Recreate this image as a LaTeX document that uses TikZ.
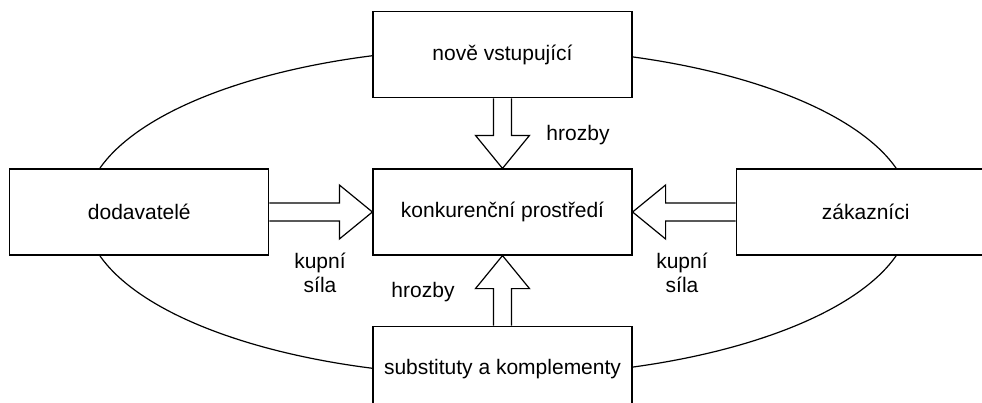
\documentclass[tikz,border=0pt]{standalone}
\usepackage{fontspec}
\setmainfont{Liberation Sans}
\usetikzlibrary{positioning}
\usetikzlibrary{calc}

\begin{document}
\begin{tikzpicture}[
	x=0.75pt,
	y=-0.75pt,
	line width=0.9pt,
	node distance=52.5pt and 77.25pt,
	font=\fontsize{15.75}{18}\selectfont]

\tikzstyle{force box}=[draw, fill=white, inner sep=0pt,
	minimum width=194.25pt, minimum height=64.5pt]
\tikzstyle{force arrow}=[draw, fill=white, line join=miter]
\tikzstyle{force label}=[align=center, inner sep=0pt]

\def\ShaftHalf{9}
\def\HeadHalf{27}
\def\HeadLen{33}

\useasboundingbox (0,0) rectangle (982,403);
\clip (0,0) rectangle (982,403);

% five forces
\coordinate (mid) at (502.5,212);

% ring round the market
\draw ($(mid)+(-4.5,0)$) ellipse [x radius=309.75pt, y radius=123pt];

\node (rivalry) [force box] at (mid) {konkurenční prostředí};
\node (entrants) [force box, above=of rivalry] {nově vstupující};
\node (substitutes) [force box, below=of rivalry] {substituty a komplementy};
\node (suppliers) [force box, left=of rivalry] {dodavatelé};
\node (buyers) [force box, right=of rivalry] {zákazníci};

% threat from new entrants
\draw[force arrow]
	($(entrants.south)+(-\ShaftHalf,0)$) --
	($(rivalry.north)+(-\ShaftHalf,-\HeadLen)$) --
	($(rivalry.north)+(-\HeadHalf,-\HeadLen)$) --
	(rivalry.north) --
	($(rivalry.north)+(\HeadHalf,-\HeadLen)$) --
	($(rivalry.north)+(\ShaftHalf,-\HeadLen)$) --
	($(entrants.south)+(\ShaftHalf,0)$);

% threat from substitutes
\draw[force arrow]
	($(substitutes.north)+(-\ShaftHalf,0)$) --
	($(rivalry.south)+(-\ShaftHalf,\HeadLen)$) --
	($(rivalry.south)+(-\HeadHalf,\HeadLen)$) --
	(rivalry.south) --
	($(rivalry.south)+(\HeadHalf,\HeadLen)$) --
	($(rivalry.south)+(\ShaftHalf,\HeadLen)$) --
	($(substitutes.north)+(\ShaftHalf,0)$);

% power of suppliers
\draw[force arrow]
	($(suppliers.east)+(0,-\ShaftHalf)$) --
	($(rivalry.west)+(-\HeadLen,-\ShaftHalf)$) --
	($(rivalry.west)+(-\HeadLen,-\HeadHalf)$) --
	(rivalry.west) --
	($(rivalry.west)+(-\HeadLen,\HeadHalf)$) --
	($(rivalry.west)+(-\HeadLen,\ShaftHalf)$) --
	($(suppliers.east)+(0,\ShaftHalf)$);

% power of buyers
\draw[force arrow]
	($(buyers.west)+(0,-\ShaftHalf)$) --
	($(rivalry.east)+(\HeadLen,-\ShaftHalf)$) --
	($(rivalry.east)+(\HeadLen,-\HeadHalf)$) --
	(rivalry.east) --
	($(rivalry.east)+(\HeadLen,\HeadHalf)$) --
	($(rivalry.east)+(\HeadLen,\ShaftHalf)$) --
	($(buyers.west)+(0,\ShaftHalf)$);

% labels
\node (threat top) [force label] at (578,135) {hrozby};
\node (threat bottom) [force label] at (423,292) {hrozby};
\node (power left) [force label] at (320,273) {kupní\\síla};
\node (power right) [force label] at (682,273) {kupní\\síla};

\end{tikzpicture}
\end{document}
